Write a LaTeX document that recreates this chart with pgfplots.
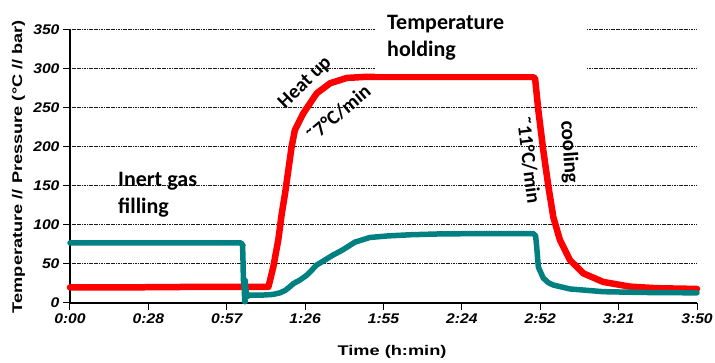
\documentclass[border=0pt]{standalone}
\usepackage{pgfplots}
\pgfplotsset{compat=1.18}
\usepackage{fontspec}
\usepackage{graphicx}
\setmainfont{Liberation Sans}
\newfontfamily\annot{Carlito}
\definecolor{tealc}{RGB}{0,128,128}
\definecolor{redc}{RGB}{255,0,0}
\newcommand{\tk}[1]{\scalebox{1.12}[1]{\fontsize{14}{16}\selectfont\bfseries\itshape #1}}
\begin{document}
\begin{tikzpicture}
\useasboundingbox (-70pt,-60pt) rectangle (645pt,303pt);
\begin{axis}[
  at={(0pt,0pt)}, anchor=south west,
  scale only axis, width=627pt, height=273pt,
  xmin=0, xmax=230, ymin=0, ymax=350,
  axis x line=bottom, axis y line=left,
  axis line style={-, line width=1.1pt, black},
  xtick={0,28.75,57.5,86.25,115,143.75,172.5,201.25,230},
  xticklabels={\tk{0:00},\tk{0:28},\tk{0:57},\tk{1:26},\tk{1:55},\tk{2:24},\tk{2:52},\tk{3:21},\tk{3:50}},
  ytick={0,50,100,150,200,250,300,350},
  yticklabels={\tk{0},\tk{50},\tk{100},\tk{150},\tk{200},\tk{250},\tk{300},\tk{350}},
  tick align=outside, major tick length=7pt,
  tick style={black, line width=1pt},
  ymajorgrids,
  major grid style={black!90, line width=1pt, dash pattern=on 1.2pt off 0.5pt},
  xlabel={\scalebox{1.3}[1]{\fontsize{14}{16}\selectfont\bfseries Time (h:min)}},
  ylabel={\scalebox{1.3}[1]{\fontsize{14}{16}\selectfont\bfseries Temperature // Pressure (°C // bar)}},
  every axis x label/.style={at={(axis description cs:0.5136,-0.1795)}, anchor=center},
  every axis y label/.style={at={(axis description cs:-0.0821,0.5)}, anchor=center, rotate=90},
  clip=false,
]
\addplot[redc, line width=6.5pt, line join=round, line cap=round] coordinates {
(0,20) (20,20) (40,20.5) (60,20.8) (72.8,20.8) (74.6,46.6) (76.4,80.8) (77.7,115)
(78.9,140.6) (80.1,170.5) (81.3,200.4) (82.5,221.8) (85.6,243.2) (90.5,268.8)
(95.4,281.7) (101.5,288.5) (108.8,290) (130,290) (150,290) (169.4,290) (170.6,288)
(171.8,247) (173.6,196) (175.5,149) (177.3,110) (179.7,81) (183.4,55) (188.3,38)
(195.6,27) (205.4,21) (215,19) (230,18)
};
\addplot[tealc, line width=5.5pt, line join=round, line cap=round] coordinates {
(0,77) (30,77) (62.8,77) (63.3,74) (63.5,50) (63.6,30) (63.9,20) (64.1,2) (64.3,25)
(64.6,15) (65,8) (65.5,10) (70,10) (74.5,11) (77,13) (78.9,16) (80.7,21) (82,25)
(84.4,29.5) (87,36) (90.5,48.7) (93,54) (96.5,61.5) (100,68) (104.5,78) (110,84)
(116.6,86) (125,87.5) (135,88.5) (150,89) (170,89) (170.8,86) (171.2,72) (171.8,46)
(173.6,32) (175.5,26) (177.3,23) (183.4,18) (195.6,14.5) (210,13.5) (230,13)
};
\addplot[tealc, line width=1.5pt] coordinates {(63.2,76) (63.6,30)};
\addplot[tealc, only marks, mark=*, mark size=2.8pt] coordinates {
(63.3,74) (63.8,30) (64.0,20) (64.3,28) (64.2,2) (64.6,12)
};
\node[fill=white, minimum width=211pt, minimum height=72pt, anchor=north west, inner sep=0pt] at (axis cs:111.9,385.9) {};
\node[font=\annot\fontsize{22}{26}\selectfont\bfseries, anchor=base west, inner sep=0pt] at (axis cs:116.3,350) {Temperature};
\node[font=\annot\fontsize{22}{26}\selectfont\bfseries, anchor=base west, inner sep=0pt] at (axis cs:116.3,315.4) {holding};
\node[font=\annot\fontsize{22}{26}\selectfont\bfseries, anchor=base west, inner sep=0pt] at (axis cs:17.6,149.1) {Inert gas};
\node[font=\annot\fontsize{22}{26}\selectfont\bfseries, anchor=base west, inner sep=0pt] at (axis cs:17.6,115) {filling};
\node[font=\annot\fontsize{20}{24}\selectfont\bfseries, rotate=44, inner sep=0pt] at (axis cs:86.3,282) {Heat up};
\node[font=\annot\fontsize{20}{24}\selectfont\bfseries, rotate=40, inner sep=0pt] at (axis cs:98.5,243) {˜7°C/min};
\node[font=\annot\fontsize{20}{24}\selectfont\bfseries, rotate=-83, inner sep=0pt] at (axis cs:168.3,183.3) {˜11°C/min};
\node[font=\annot\fontsize{21}{24}\selectfont\bfseries, rotate=-86, inner sep=0pt] at (axis cs:183,193.6) {cooling};
\end{axis}
\end{tikzpicture}
\end{document}
